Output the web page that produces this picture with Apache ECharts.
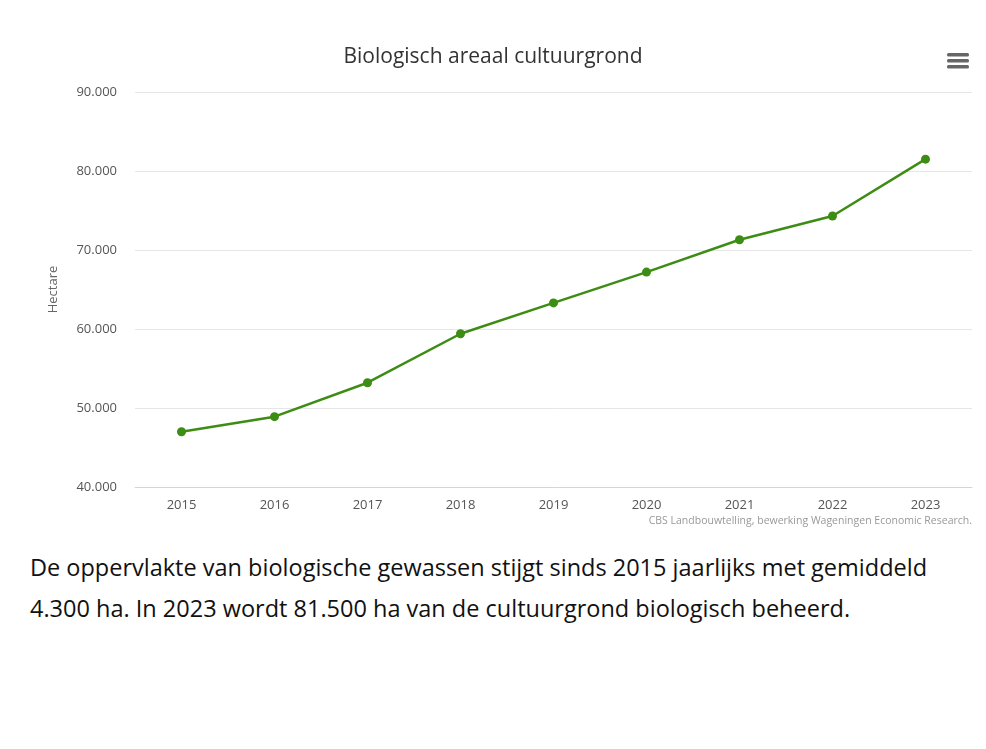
<!DOCTYPE html>
<html><head><meta charset="utf-8">
<script src="https://cdn.jsdelivr.net/npm/echarts@6/dist/echarts.min.js"></script>
<style>
body{margin:0;background:#fff;}
#c{width:986px;height:535px;}
#t{position:absolute;left:30px;top:547px;width:945px;font-family:"Open Sans",sans-serif;font-size:23.5px;line-height:41px;color:#111;}
</style></head><body>
<div id="c"></div>
<div id="t">De oppervlakte van biologische gewassen stijgt sinds 2015 jaarlijks met gemiddeld 4.300 ha. In 2023 wordt 81.500 ha van de cultuurgrond biologisch beheerd.</div>
<script>
var years=['2015','2016','2017','2018','2019','2020','2021','2022','2023'];
var hectare=[47000,48900,53200,59400,63300,67200,71300,74300,81500];
var chart=echarts.init(document.getElementById('c'));
chart.setOption({
 animation:false,
 textStyle:{fontFamily:'"Open Sans",sans-serif'},
 title:{text:'Biologisch areaal cultuurgrond',left:'center',top:42,textStyle:{fontSize:21,fontWeight:'normal',color:'#333'}},
 graphic:[
  {type:'rect',shape:{x:947,y:53,width:22,height:3.5,r:1.5},style:{fill:'#666'}},
  {type:'rect',shape:{x:947,y:59,width:22,height:3.5,r:1.5},style:{fill:'#666'}},
  {type:'rect',shape:{x:947,y:65,width:22,height:3.5,r:1.5},style:{fill:'#666'}},
  {type:'text',right:14,top:516,style:{text:'CBS Landbouwtelling, bewerking Wageningen Economic Research.',fontSize:10.5,fill:'#999',fontFamily:'"Open Sans",sans-serif'}}
 ],
 grid:{left:135,right:14,top:92,bottom:48},
 xAxis:{type:'category',data:years,boundaryGap:true,axisTick:{show:false},axisLine:{lineStyle:{color:'#ccd6eb'}},axisLabel:{color:'#555',fontSize:13,margin:12}},
 yAxis:{type:'value',min:40000,max:90000,interval:10000,name:'Hectare',nameLocation:'middle',nameGap:75,nameTextStyle:{color:'#666',fontSize:13},
  axisLabel:{color:'#555',fontSize:13,margin:18,formatter:function(v){return (v/1000).toFixed(3);}},
  splitLine:{lineStyle:{color:'#e6e6e6'}}},
 series:[{type:'line',data:hectare,symbol:'circle',symbolSize:9,lineStyle:{color:'#3d8c14',width:2.5},itemStyle:{color:'#3d8c14'}}]
});
</script></body></html>
